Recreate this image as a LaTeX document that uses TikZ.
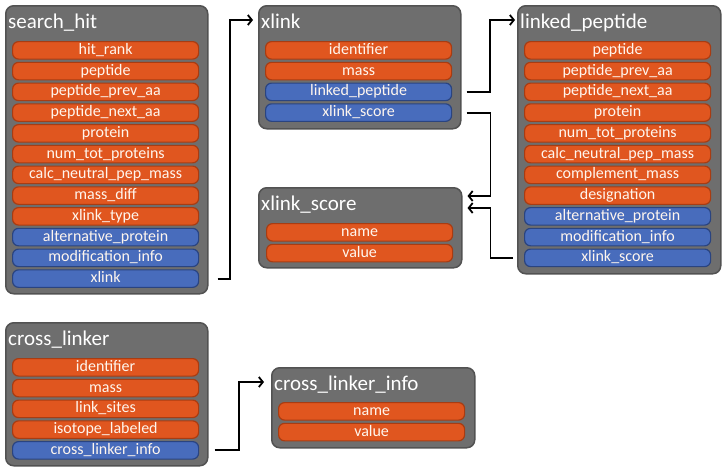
\documentclass[tikz,border=0pt]{standalone}
\usepackage{fontspec}
\setmainfont{Carlito}
\usetikzlibrary{arrows.meta,calc}
\definecolor{boxgray}{RGB}{110,110,110}
\definecolor{boxedge}{RGB}{82,82,82}
\definecolor{fillo}{RGB}{224,86,31}
\definecolor{edgeo}{RGB}{168,60,18}
\definecolor{fillb}{RGB}{72,108,188}
\definecolor{edgeb}{RGB}{42,68,128}
\definecolor{rowtext}{RGB}{255,246,238}
\newcommand\mkrows[4]{%
  \foreach \t/\s [count=\i] in {#4} {%
    \node[rowbox, fill=fill\s, draw=edge\s] (#1-\i) at (#2, {#3+(\i-1)*20.75}) {\t};}}
\begin{document}
\begin{tikzpicture}[x=1pt,y=-1pt,
  tbox/.style={draw=boxedge, line width=1.5pt, fill=boxgray, rounded corners=8pt,
    anchor=north west, inner sep=0pt},
  ttl/.style={anchor=base west, inner sep=0pt, text=white, font=\fontsize{21}{21}\selectfont},
  rowbox/.style={line width=1.2pt, rounded corners=6pt, minimum height=17.5pt,
    minimum width=186pt, inner sep=0pt, text=rowtext, anchor=north west,
    text height=10.5pt, text depth=2.5pt, font=\fontsize{16}{16}\selectfont},
  arr/.style={-{Straight Barb[length=4pt,width=10pt]}, line width=1.8pt, black}
]
\useasboundingbox (0,0) rectangle (725,471);
% boxes
\node[tbox, minimum width=202pt, minimum height=288pt] (shbox) at (5,5) {};
\node[tbox, minimum width=202pt, minimum height=123pt] (xlbox) at (258,5) {};
\node[tbox, minimum width=203pt, minimum height=268pt] (lpbox) at (517,5) {};
\node[tbox, minimum width=203pt, minimum height=80pt] (xsbox) at (258,187) {};
\node[tbox, minimum width=202pt, minimum height=143pt] (clbox) at (5,322) {};
\node[tbox, minimum width=203pt, minimum height=80pt] (cibox) at (271,367) {};
% titles
\node[ttl] (sht) at ($(shbox.north west)+(3,23)$) {search\_hit};
\node[ttl] (xlt) at ($(xlbox.north west)+(3,23)$) {xlink};
\node[ttl] (lpt) at ($(lpbox.north west)+(3,23)$) {linked\_peptide};
\node[ttl] (xst) at ($(xsbox.north west)+(3,23)$) {xlink\_score};
\node[ttl] (clt) at ($(clbox.north west)+(3,23)$) {cross\_linker};
\node[ttl] (cit) at ($(cibox.north west)+(3,23)$) {cross\_linker\_info};
% rows
\mkrows{sh}{12}{41}{hit\_rank/o,peptide/o,peptide\_prev\_aa/o,peptide\_next\_aa/o,protein/o,num\_tot\_proteins/o,calc\_neutral\_pep\_mass/o,mass\_diff/o,xlink\_type/o,alternative\_protein/b,modification\_info/b,xlink/b}
\mkrows{xl}{265}{41}{identifier/o,mass/o,linked\_peptide/b,xlink\_score/b}
\mkrows{lp}{524}{41}{peptide/o,peptide\_prev\_aa/o,peptide\_next\_aa/o,protein/o,num\_tot\_proteins/o,calc\_neutral\_pep\_mass/o,complement\_mass/o,designation/o,alternative\_protein/b,modification\_info/b,xlink\_score/b}
\mkrows{xs}{266}{223}{name/o,value/o}
\mkrows{cl}{12}{358}{identifier/o,mass/o,link\_sites/o,isotope\_labeled/o,cross\_linker\_info/b}
\mkrows{ci}{278}{402}{name/o,value/o}
% connectors
\coordinate (a1s) at ($(shbox.east |- sh-12)+(9,0)$);
\coordinate (a1c) at ($(xlbox.north west)+(-28,15)$);
\coordinate (a1e) at ($(xlbox.north west)+(-5,15)$);
\draw[arr] (a1s) -| (a1c) -- (a1e);
\coordinate (a2s) at ($(xlbox.east |- xl-3)+(5,0)$);
\coordinate (a2c) at ($(lpbox.north west)+(-27,15)$);
\coordinate (a2e) at ($(lpbox.north west)+(-2,15)$);
\draw[arr] (a2s) -| (a2c) -- (a2e);
\coordinate (a3s) at ($(xlbox.east |- xl-4)+(5,0)$);
\coordinate (a3c) at ($(xsbox.north east)+(28,9)$);
\coordinate (a3e) at ($(xsbox.north east)+(5,9)$);
\draw[arr] (a3s) -| (a3c) -- (a3e);
\coordinate (a4s) at ($(lpbox.west |- lp-11)+(-4,0)$);
\coordinate (a4c) at ($(xsbox.north east)+(28,21)$);
\coordinate (a4e) at ($(xsbox.north east)+(5,21)$);
\draw[arr] (a4s) -| (a4c) -- (a4e);
\coordinate (a5s) at ($(clbox.east |- cl-5)+(6,0)$);
\coordinate (a5c) at ($(cibox.north west)+(-32,15)$);
\coordinate (a5e) at ($(cibox.north west)+(-7,15)$);
\draw[arr] (a5s) -| (a5c) -- (a5e);
\end{tikzpicture}
\end{document}
